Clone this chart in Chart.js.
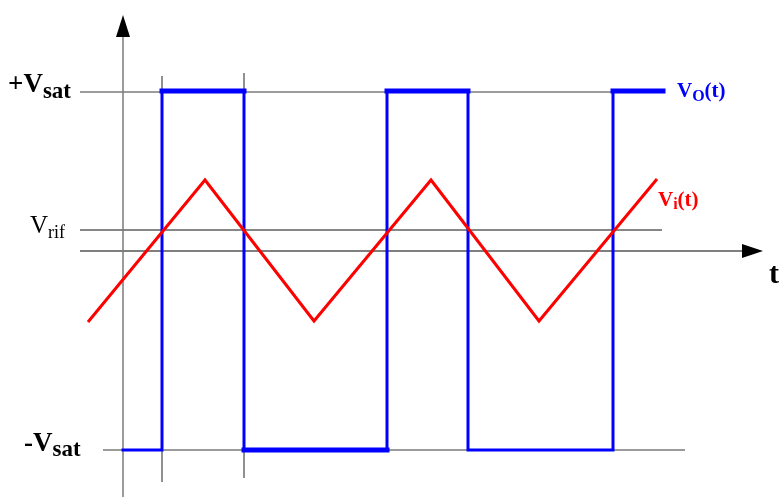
<!DOCTYPE html>
<html>
<head>
    <title>Comparatore - Vi(t) e Vo(t)</title>
    <script src="https://cdn.jsdelivr.net/npm/chart.js"></script>
    <style>
        body { margin: 0; background: #fff; }
        #wrap { width: 780px; height: 498px; }
    </style>
</head>
<body>
    <div id="wrap"><canvas id="wave" width="780" height="498"></canvas></div>

    <script>
        // time in arbitrary units (0 = vertical axis), voltage in arbitrary units (0 = t axis)
        const vinTime = [-3.5, 8.2, 19.1, 30.8, 41.6, 53.4];
        const vinVolt = [-7.1, 7.1, -7.0, 7.1, -7.0, 7.2];

        const voutTime = [0, 3.9, 3.9, 12.1, 12.1, 26.4, 26.4, 34.5, 34.5, 49.0, 49.0, 54.0];
        const voutVolt = [-19.9, -19.9, 16.0, 16.0, -19.9, -19.9, 16.0, 16.0, -19.9, -19.9, 16.0, 16.0];

        const vSatPos = 15.9;
        const vSatNeg = -19.9;
        const vRif = 2.1;
        const tickTimes = [3.9, 12.1];

        // blue segment widths (thick where the original is thick)
        const voutWidths = [3, 3, 5, 3, 5, 3, 5, 3, 3, 3, 5];

        const pts = (xs, ys) => xs.map((x, i) => ({ x: x, y: ys[i] }));

        const guides = {
            id: 'guides',
            beforeDatasetsDraw(chart) {
                const c = chart.ctx;
                const sx = chart.scales.x, sy = chart.scales.y;
                const X = v => sx.getPixelForValue(v);
                const Y = v => sy.getPixelForValue(v);
                c.save();
                function hline(y, x0, x1, col, w) {
                    c.strokeStyle = col; c.lineWidth = w;
                    c.beginPath(); c.moveTo(X(x0), Y(y)); c.lineTo(X(x1), Y(y)); c.stroke();
                }
                function vline(x, y0, y1, col, w) {
                    c.strokeStyle = col; c.lineWidth = w;
                    c.beginPath(); c.moveTo(X(x), Y(y0)); c.lineTo(X(x), Y(y1)); c.stroke();
                }
                hline(vSatPos, -4.3, 49.0, '#7a7a7a', 1.5);
                hline(vRif, -4.3, 53.9, '#111', 1.2);
                hline(0, -4.3, 61.9, '#555', 1.5);
                hline(vSatNeg, -2.0, 56.2, '#7a7a7a', 1.5);
                vline(0, -24.6, 21.4, '#7a7a7a', 1.5);
                vline(tickTimes[0], 17.5, -23.1, '#222', 1);
                vline(tickTimes[1], 17.8, -22.7, '#222', 1);

                // arrow heads
                c.fillStyle = '#000';
                c.beginPath();
                c.moveTo(X(0), Y(23.6));
                c.lineTo(X(0) - 7, Y(21.4));
                c.lineTo(X(0) + 7, Y(21.4));
                c.closePath(); c.fill();
                c.beginPath();
                c.moveTo(X(64.0), Y(0));
                c.lineTo(X(61.9), Y(0) - 7);
                c.lineTo(X(61.9), Y(0) + 7);
                c.closePath(); c.fill();
                c.restore();
            },
            afterDatasetsDraw(chart) {
                const c = chart.ctx;
                c.save();
                c.textBaseline = 'alphabetic';
                function label(x, y, parts) {
                    let cx = x;
                    parts.forEach(p => {
                        c.font = p.font;
                        c.fillStyle = p.color;
                        c.fillText(p.text, cx, y + (p.dy || 0));
                        cx += c.measureText(p.text).width;
                    });
                }
                const B = 'bold 27px "Liberation Serif"';
                const Bs = 'bold 23px "Liberation Serif"';
                label(8, 92, [
                    { text: '+V', font: B, color: '#000' },
                    { text: 'sat', font: Bs, color: '#000', dy: 6 }
                ]);
                label(24, 451, [
                    { text: '-V', font: B, color: '#000' },
                    { text: 'sat', font: Bs, color: '#000', dy: 5 }
                ]);
                label(30, 233, [
                    { text: 'V', font: '25px "Liberation Serif"', color: '#000' },
                    { text: 'rif', font: '18px "Liberation Serif"', color: '#000', dy: 5 }
                ]);
                label(677, 97, [
                    { text: 'V', font: 'bold 21px "Liberation Serif"', color: '#0000ff' },
                    { text: 'O', font: 'bold 16px "Liberation Serif"', color: '#0000ff', dy: 4 },
                    { text: '(t)', font: 'bold 21px "Liberation Serif"', color: '#0000ff' }
                ]);
                label(658, 206, [
                    { text: 'V', font: 'bold 21px "Liberation Serif"', color: '#ff0000' },
                    { text: 'i', font: 'bold 16px "Liberation Serif"', color: '#ff0000', dy: 3 },
                    { text: '(t)', font: 'bold 21px "Liberation Serif"', color: '#ff0000' }
                ]);
                label(769, 283, [
                    { text: 't', font: 'bold 30px "Liberation Serif"', color: '#000' }
                ]);
                c.restore();
            }
        };

        const ctx = document.getElementById('wave').getContext('2d');
        const chart = new Chart(ctx, {
            type: 'line',
            data: {
                datasets: [{
                    label: 'Vi(t)',
                    data: pts(vinTime, vinVolt),
                    borderColor: '#ff0000',
                    borderWidth: 3,
                    pointRadius: 0,
                    tension: 0
                }, {
                    label: 'Vo(t)',
                    data: pts(voutTime, voutVolt),
                    borderColor: '#0000ff',
                    borderWidth: 3,
                    borderCapStyle: 'square',
                    pointRadius: 0,
                    tension: 0,
                    segment: {
                        borderWidth: c => voutWidths[c.p0DataIndex]
                    }
                }]
            },
            options: {
                responsive: false,
                animation: false,
                layout: { padding: 0 },
                plugins: {
                    legend: { display: false },
                    tooltip: { enabled: false }
                },
                scales: {
                    x: { type: 'linear', min: -12.3, max: 65.7, display: false },
                    y: { type: 'linear', min: -24.7, max: 25.1, display: false }
                }
            },
            plugins: [guides]
        });
    </script>
</body>
</html>
